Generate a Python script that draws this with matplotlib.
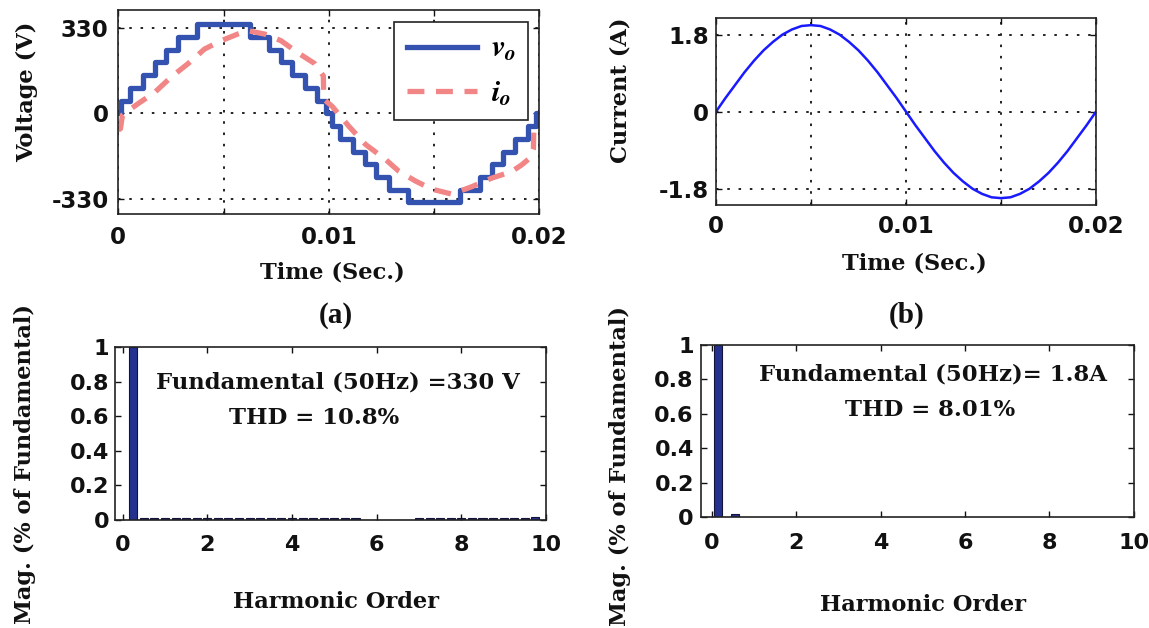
import matplotlib
matplotlib.use('Agg')
import matplotlib.pyplot as plt

W, H = 1149, 628

# (a) staircase output voltage v_o (switching instants in s, level in V)
vo_time = [0, 0.00015, 0.00055, 0.00115, 0.00173, 0.00226, 0.00284, 0.00375,
           0.00625, 0.00716, 0.00774, 0.00827, 0.00885, 0.00945, 0.00985,
           0.01015, 0.01055, 0.01115, 0.01173, 0.01226, 0.01284, 0.01375,
           0.01625, 0.01716, 0.01774, 0.01827, 0.01885, 0.01945, 0.01985, 0.02]
vo_volt = [0, 49, 99, 148, 197, 247, 296, 345,
           296, 247, 197, 148, 99, 49, 0,
           -49, -99, -148, -197, -247, -296, -345,
           -296, -247, -197, -148, -99, -49, 0, 0]

# (a) load current i_o (scaled onto the voltage axis)
io_time = [0, 0.0001, 0.0002, 0.00095, 0.00173, 0.00252, 0.00331, 0.0041,
           0.00489, 0.00568, 0.00615, 0.00694, 0.00773, 0.00852, 0.00932,
           0.00974, 0.00976, 0.01017, 0.01096, 0.01175, 0.0127, 0.01332,
           0.01411, 0.0149, 0.01585, 0.0168, 0.01774, 0.01868, 0.01916,
           0.01960, 0.01972, 0.01974, 0.02]
io_val = [-64, -60, -6, 38, 81, 141, 192, 249,
          281, 307, 320, 307, 281, 235, 193,
          145, 55, 26, -51, -121, -179, -224,
          -262, -294, -313, -284, -251, -226, -200,
          -170, -140, -57, -55]

# (b) load current (A)
ib_time = [0, 0.0005, 0.001, 0.0015, 0.002, 0.0025, 0.003, 0.0035, 0.004, 0.0045,
           0.005, 0.0055, 0.006, 0.0065, 0.007, 0.0075, 0.008, 0.0085, 0.009, 0.0095,
           0.01, 0.0105, 0.011, 0.0115, 0.012, 0.0125, 0.013, 0.0135, 0.014, 0.0145,
           0.015, 0.0155, 0.016, 0.0165, 0.017, 0.0175, 0.018, 0.0185, 0.019, 0.0195,
           0.02]
ib_amp = [0, 0.32, 0.62, 0.92, 1.19, 1.43, 1.63, 1.80, 1.92, 2.00,
          2.02, 2.00, 1.92, 1.80, 1.63, 1.43, 1.19, 0.92, 0.62, 0.32,
          0, -0.32, -0.62, -0.92, -1.19, -1.43, -1.63, -1.80, -1.92, -2.00,
          -2.02, -2.00, -1.92, -1.80, -1.63, -1.43, -1.19, -0.92, -0.62, -0.32,
          0]

# harmonic spectra
ha_order = [0.25, 0.5, 0.75, 1.0, 1.25, 1.5, 1.75, 2.0, 2.25, 2.5, 2.75, 3.0, 3.25,
            3.5, 3.75, 4.0, 4.25, 4.5, 4.75, 5.0, 5.25, 5.5, 5.75, 6.0, 6.25, 6.5,
            6.75, 7.0, 7.25, 7.5, 7.75, 8.0, 8.25, 8.5, 8.75, 9.0, 9.25, 9.5, 9.75]
ha_mag = [1.0, 0.008, 0.008, 0.008, 0.008, 0.008, 0.008, 0.008, 0.008, 0.008, 0.008,
          0.008, 0.008, 0.008, 0.008, 0.008, 0.008, 0.008, 0.008, 0.008, 0.008, 0.008,
          0, 0, 0, 0, 0, 0.008, 0.008, 0.008, 0.008, 0.008, 0.008, 0.008, 0.008,
          0.008, 0.008, 0.008, 0.016]
hb_order = [0.15, 0.55]
hb_mag = [1.0, 0.017]

t_ticks = [0, 0.005, 0.01, 0.015, 0.02]
t_labels = ['0', '', '0.01', '', '0.02']
h_ticks = [0, 2, 4, 6, 8, 10]
m_ticks = [0, 0.2, 0.4, 0.6, 0.8, 1]
m_labels = ['0', '0.2', '0.4', '0.6', '0.8', '1']

plt.rcParams['font.family'] = 'DejaVu Sans'
plt.rcParams['font.weight'] = 'bold'
plt.rcParams['mathtext.fontset'] = 'stix'

fig = plt.figure(figsize=(W / 100, H / 100), dpi=100, facecolor='white')


def box(x0, y0, x1, y1):
    # pixel box (left, top, right, bottom) -> figure rect
    return [x0 / W, 1 - y1 / H, (x1 - x0) / W, (y1 - y0) / H]


def px(x, y):
    return x / W, 1 - y / H


def style(ax, pad_x, pad_y, size=16):
    ax.tick_params(direction='in', top=True, right=True, length=4, width=1,
                   labelsize=size, colors='#111111')
    ax.tick_params(axis='x', pad=pad_x)
    ax.tick_params(axis='y', pad=pad_y)
    for s in ax.spines.values():
        s.set_linewidth(1.2)
        s.set_color('#222222')


grid_kw = dict(color='#222222', linestyle=(0, (1.3, 4.5)), linewidth=1.4)
serif = dict(family='DejaVu Serif', weight='bold', color='#111111')

# ---- (a) top: voltage / current waveforms
ax1 = fig.add_axes(box(118.3, 10, 539.3, 214))
ax1.step(vo_time, vo_volt, where='post', color='#3452b0', lw=3.8, label='$v_o$')
ax1.plot(io_time, io_val, color='#f28585', lw=3.8, linestyle=(0, (3.2, 2.2)),
         label='$i_o$')
ax1.set_xlim(0, 0.02)
ax1.set_ylim(-390, 400)
ax1.set_xticks(t_ticks)
ax1.set_xticklabels(t_labels)
ax1.set_yticks([-330, 0, 330])
ax1.set_yticklabels(['-330', '0', '330'])
ax1.grid(True, **grid_kw)
style(ax1, 9, 7, 16.5)
leg = ax1.legend(loc='upper right', bbox_to_anchor=(0.973, 0.941), borderaxespad=0,
                 fancybox=False, framealpha=1, edgecolor='#222222',
                 prop={'size': 22}, handlelength=2.3, labelspacing=0.5,
                 borderpad=0.4, handletextpad=0.45)
leg.get_frame().set_linewidth(1.2)

# ---- (b) top: current waveform
ax2 = fig.add_axes(box(716, 18.3, 1096, 205))
ax2.plot(ib_time, ib_amp, color='#1a1aff', lw=1.8)
ax2.set_xlim(0, 0.02)
ax2.set_ylim(-2.18, 2.18)
ax2.set_xticks(t_ticks)
ax2.set_xticklabels(t_labels)
ax2.set_yticks([-1.8, 0, 1.8])
ax2.set_yticklabels(['-1.8', '0', '1.8'])
ax2.grid(True, **grid_kw)
style(ax2, 7, 5, 16.5)

# ---- (a) bottom: voltage spectrum
ax3 = fig.add_axes(box(115, 347.3, 546, 519.5))
ax3.bar(ha_order, ha_mag, width=0.19, color='#24318f', edgecolor='#14143a', lw=0.8)
ax3.set_xlim(-0.18, 10)
ax3.set_ylim(0, 1)
ax3.set_xticks(h_ticks)
ax3.set_yticks(m_ticks)
ax3.set_yticklabels(m_labels)
style(ax3, 11, 4)

# ---- (b) bottom: current spectrum
ax4 = fig.add_axes(box(700.7, 345, 1133.6, 517.3))
ax4.bar(hb_order, hb_mag, width=0.19, color='#24318f', edgecolor='#14143a', lw=0.8)
ax4.set_xlim(-0.27, 10)
ax4.set_ylim(0, 1)
ax4.set_xticks(h_ticks)
ax4.set_yticks(m_ticks)
ax4.set_yticklabels(m_labels)
style(ax4, 11, 5)

# axis titles
fs = 16.2
fig.text(*px(27, 92), 'Voltage (V)', rotation=90, ha='center', va='center', fontsize=fs, **serif)
fig.text(*px(332, 272), 'Time (Sec.)', ha='center', va='center', fontsize=fs, **serif)
fig.text(*px(620, 90), 'Current (A)', rotation=90, ha='center', va='center', fontsize=fs, **serif)
fig.text(*px(914, 263), 'Time (Sec.)', ha='center', va='center', fontsize=fs, **serif)
fig.text(*px(25, 464), 'Mag. (% of Fundamental)', rotation=90, ha='center', va='center', fontsize=fs, **serif)
fig.text(*px(620, 466), 'Mag. (% of Fundamental)', rotation=90, ha='center', va='center', fontsize=fs, **serif)
fig.text(*px(336, 602), 'Harmonic Order', ha='center', va='center', fontsize=fs, **serif)
fig.text(*px(923, 605), 'Harmonic Order', ha='center', va='center', fontsize=fs, **serif)

# panel captions
fig.text(*px(336, 315), '(a)', ha='center', va='center', fontsize=21,
         family='Liberation Serif', weight='bold', color='#111111')
fig.text(*px(907, 315), '(b)', ha='center', va='center', fontsize=21,
         family='Liberation Serif', weight='bold', color='#111111')

# spectrum annotations
fig.text(*px(338, 383), 'Fundamental (50Hz) =330 V', ha='center', va='center', fontsize=16.4, **serif)
fig.text(*px(314, 418), 'THD = 10.8%', ha='center', va='center', fontsize=16.4, **serif)
fig.text(*px(933, 375), 'Fundamental (50Hz)= 1.8A', ha='center', va='center', fontsize=16.4, **serif)
fig.text(*px(930, 410), 'THD = 8.01%', ha='center', va='center', fontsize=16.4, **serif)

fig.savefig('out.png', dpi=100, facecolor='white')
